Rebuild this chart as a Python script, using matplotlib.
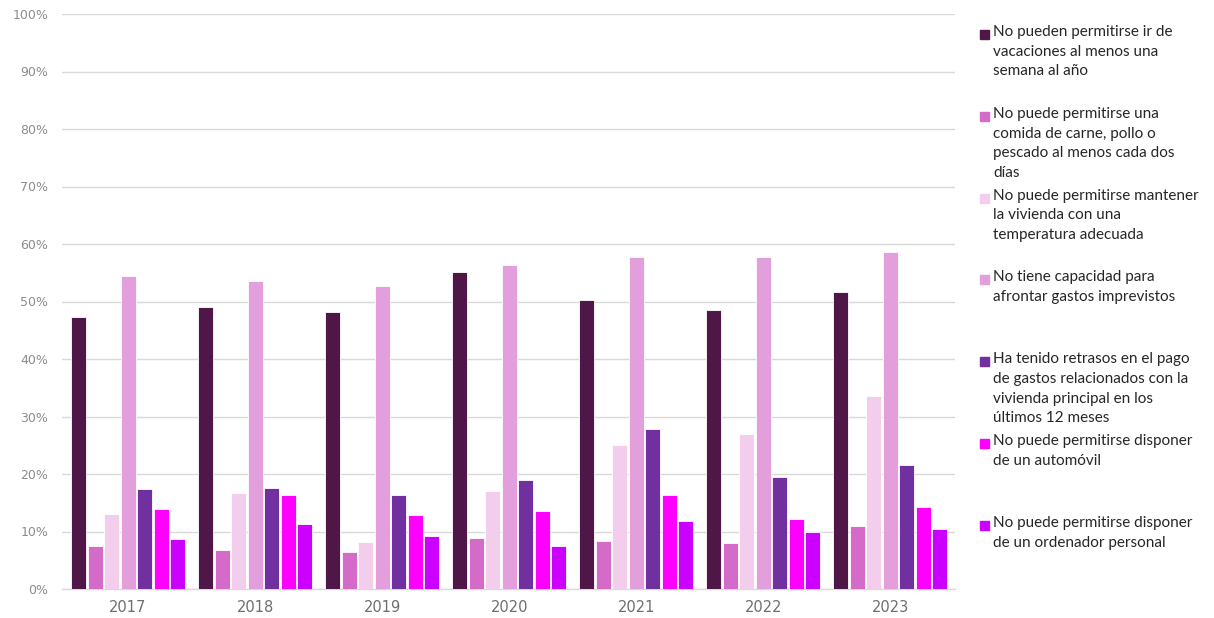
import matplotlib
matplotlib.use("Agg")
import matplotlib.pyplot as plt
import numpy as np

years = ["2017", "2018", "2019", "2020", "2021", "2022", "2023"]

vacaciones = [47.3, 49.0, 48.2, 55.2, 50.3, 48.5, 51.6]
comida = [7.5, 6.8, 6.5, 8.8, 8.4, 8.0, 11.0]
temperatura = [13.0, 16.7, 8.1, 17.1, 25.1, 27.0, 33.6]
imprevistos = [54.4, 53.6, 52.7, 56.3, 57.7, 57.7, 58.6]
retrasos = [17.4, 17.6, 16.4, 19.0, 27.9, 19.5, 21.5]
automovil = [13.9, 16.3, 12.9, 13.5, 16.4, 12.1, 14.3]
ordenador = [8.7, 11.3, 9.3, 7.5, 11.9, 10.0, 10.5]

series_values = [vacaciones, comida, temperatura, imprevistos, retrasos, automovil, ordenador]
series_labels = [
    "No pueden permitirse ir de\nvacaciones al menos una\nsemana al año",
    "No puede permitirse una\ncomida de carne, pollo o\npescado al menos cada dos\ndías",
    "No puede permitirse mantener\nla vivienda con una\ntemperatura adecuada",
    "No tiene capacidad para\nafrontar gastos imprevistos",
    "Ha tenido retrasos en el pago\nde gastos relacionados con la\nvivienda principal en los\núltimos 12 meses",
    "No puede permitirse disponer\nde un automóvil",
    "No puede permitirse disponer\nde un ordenador personal",
]
series_colors = ["#4F1748", "#D46BC8", "#F2CDEC", "#E39FDC", "#7130A0", "#FF00FF", "#CC00FF"]
yticks = [0, 10, 20, 30, 40, 50, 60, 70, 80, 90, 100]

fig = plt.figure(figsize=(12.14, 6.18), dpi=100)
ax = fig.add_axes([62 / 1214, 1 - 589 / 618, (955 - 62) / 1214, (589 - 14) / 618])

x = np.arange(len(years))
n = len(series_values)
slot = 0.13
width = 0.118
for i, (vals, col) in enumerate(zip(series_values, series_colors)):
    offs = (i - (n - 1) / 2) * slot
    ax.bar(x + offs, vals, width=width, color=col, edgecolor="white", linewidth=0.6, zorder=3)

ax.set_xlim(-0.52, 6.51)
ax.set_ylim(0, 100)
ax.set_yticks(yticks)
ax.set_yticklabels([f"{v}%" for v in yticks], fontsize=9, color="#8c8c8c")
ax.set_xticks(x)
ax.set_xticklabels(years, fontsize=10.5, color="#6e6e6e")
ax.tick_params(axis="both", length=0)
ax.tick_params(axis="y", pad=10)
ax.tick_params(axis="x", pad=8)
ax.grid(axis="y", color="#d9d9d9", linewidth=1, zorder=0)
for s in ["top", "right", "left"]:
    ax.spines[s].set_visible(False)
ax.spines["bottom"].set_color("#d9d9d9")
ax.spines["bottom"].set_linewidth(1)

# legend drawn manually
W, H = 1214, 618
for i, (lab, col) in enumerate(zip(series_labels, series_colors)):
    ytop = 34 + i * 81.8
    fig.patches.append(plt.Rectangle((980 / W, 1 - (ytop + 5) / H), 9 / W, 9 / H,
                                     transform=fig.transFigure, color=col, figure=fig))
    fig.text(993 / W, 1 - (ytop - 9) / H, lab, fontsize=11, family="Lato", color="#262626",
             va="top", ha="left", linespacing=1.52)

fig.savefig("out.png", dpi=100)
